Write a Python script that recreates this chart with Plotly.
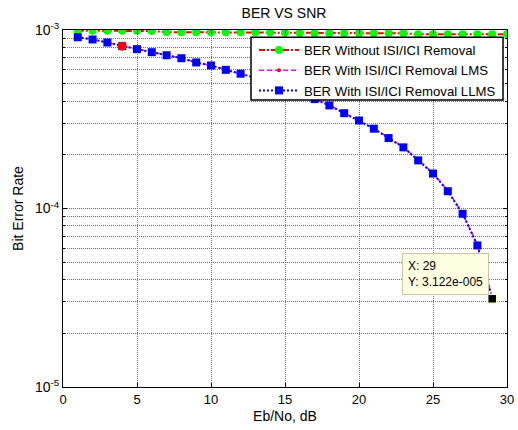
import plotly.graph_objects as go
import numpy as np

# ---- data ----
snr_no_removal = list(range(1, 31))
ber_no_removal = [0.990e-3, 0.990e-3, 0.989e-3, 0.989e-3, 0.990e-3, 0.988e-3,
                  0.973e-3, 0.972e-3, 0.972e-3, 0.971e-3, 0.972e-3, 0.971e-3,
                  0.972e-3, 0.970e-3, 0.968e-3, 0.961e-3, 0.960e-3, 0.960e-3,
                  0.959e-3, 0.960e-3, 0.960e-3, 0.959e-3, 0.958e-3, 0.948e-3,
                  0.947e-3, 0.948e-3, 0.947e-3, 0.947e-3, 0.946e-3, 0.947e-3]

snr_eq = list(range(1, 30))
ber_llms = [0.911e-3, 0.885e-3, 0.851e-3, 0.812e-3, 0.781e-3, 0.751e-3,
            0.722e-3, 0.695e-3, 0.658e-3, 0.633e-3, 0.598e-3, 0.569e-3,
            0.540e-3, 0.510e-3, 0.478e-3, 0.444e-3, 0.410e-3, 0.378e-3,
            0.342e-3, 0.311e-3, 0.280e-3, 0.248e-3, 0.220e-3, 0.186e-3,
            0.157e-3, 0.125e-3, 0.0934e-3, 0.0621e-3, 0.03122e-3]
ber_lms = [0.912e-3, 0.886e-3, 0.852e-3, 0.812e-3, 0.782e-3, 0.752e-3,
           0.723e-3, 0.696e-3, 0.659e-3, 0.634e-3, 0.599e-3, 0.570e-3,
           0.541e-3, 0.511e-3, 0.479e-3, 0.445e-3, 0.411e-3, 0.379e-3,
           0.343e-3, 0.312e-3, 0.281e-3, 0.249e-3, 0.221e-3, 0.187e-3,
           0.158e-3, 0.126e-3, 0.0940e-3, 0.0628e-3, 0.0318e-3]

highlight_x = [4]
highlight_y = [0.812e-3]
tip_x = 29
tip_y = 3.122e-5
tip_text = "X: 29<br>Y: 3.122e-005"

legend_names = ["BER Without ISI/ICI Removal",
                "BER With ISI/ICI Removal LMS",
                "BER With ISI/ICI Removal LLMS"]

x_ticks = [0, 5, 10, 15, 20, 25, 30]
y_major = [1e-5, 1e-4, 1e-3]
y_major_text = ["10<sup>-5</sup>", "10<sup>-4</sup>", "10<sup>-3</sup>"]
y_minor = [m * 10.0 ** e for e in (-5, -4) for m in range(2, 10)]

FONT = "Liberation Sans, Arial, sans-serif"
W, H = 518, 430
ML, MR, MT, MB = 63, 11, 30, 43
PW, PH = W - ML - MR, H - MT - MB
GRID = "#707070"


def px_x(p):
    return (p - ML) / PW


def px_y(p):
    return 1 - (p - MT) / PH


fig = go.Figure()
fig.add_trace(go.Scatter(
    x=snr_no_removal, y=ber_no_removal, name=legend_names[0], mode="lines+markers",
    line=dict(color="#ff0000", width=2, dash="6px,2px,2px,2px"),
    marker=dict(symbol="circle", size=8, color="#00ff00", line=dict(width=0))))
fig.add_trace(go.Scatter(
    x=snr_eq, y=ber_lms, name=legend_names[1], mode="lines+markers",
    line=dict(color="#ff00ff", width=1.5, dash="5px,3px"),
    marker=dict(symbol="circle", size=4, color="#ff0000", line=dict(width=0))))
fig.add_trace(go.Scatter(
    x=snr_eq, y=ber_llms, name=legend_names[2], mode="lines+markers",
    line=dict(color="#0000ff", width=2, dash="2px,2px"),
    marker=dict(symbol="square", size=8, color="#0000ff", line=dict(width=0))))
fig.add_trace(go.Scatter(
    x=highlight_x, y=highlight_y, mode="markers", showlegend=False,
    marker=dict(symbol="circle", size=9, color="#ff0000", line=dict(width=0))))
fig.add_trace(go.Scatter(
    x=[tip_x], y=[tip_y], mode="markers", showlegend=False,
    marker=dict(symbol="square", size=9, color="#000000",
                line=dict(width=1.5, color="#ffffc0"))))

fig.add_annotation(
    x=tip_x, y=np.log10(tip_y), xref="x", yref="y", text=tip_text,
    showarrow=False, xanchor="right", yanchor="bottom", xshift=-3, yshift=4,
    align="left", bgcolor="#ffffe1", bordercolor="#c8c8a0", borderwidth=1,
    borderpad=5, font=dict(family=FONT, size=12, color="black"))

# legend frame (MATLAB style box)
fig.add_shape(type="rect", xref="paper", yref="paper",
              x0=px_x(251), x1=px_x(503), y0=px_y(100), y1=px_y(37.3),
              line=dict(color="black", width=1.5), fillcolor="white", layer="above")

axis_common = dict(
    automargin=False,
    showline=True, linecolor="black", linewidth=1, mirror="ticks",
    ticks="inside", tickcolor="black", ticklen=4,
    showgrid=True, gridcolor=GRID, griddash="1px,1px", gridwidth=1,
    zeroline=False, tickfont=dict(family=FONT, size=13, color="black"))

fig.update_xaxes(range=[0, 30], tickmode="array", tickvals=x_ticks,
                 title=dict(text="Eb/No, dB", standoff=5,
                            font=dict(family=FONT, size=14, color="black")),
                 **axis_common)
fig.update_yaxes(type="log", range=[-5, -3], tickmode="array",
                 tickvals=y_major, ticktext=y_major_text,
                 title=dict(text="Bit Error Rate", standoff=8,
                            font=dict(family=FONT, size=14, color="black")),
                 minor=dict(tickmode="array", tickvals=y_minor, ticks="inside",
                            ticklen=2, tickcolor="black", showgrid=True,
                            gridcolor=GRID, griddash="1px,1px", gridwidth=1),
                 **axis_common)
fig.update_yaxes(tickfont=dict(family=FONT, size=14, color="black"))

fig.update_layout(
    width=W, height=H,
    margin=dict(l=ML, r=MR, t=MT, b=MB),
    paper_bgcolor="white", plot_bgcolor="white",
    title=dict(text="BER VS SNR", xref="paper", x=px_x(284), xanchor="center",
               y=1 - 13 / H, yanchor="middle",
               font=dict(family=FONT, size=14, color="black")),
    legend=dict(x=px_x(254), y=px_y(35), xanchor="left", yanchor="top",
                bgcolor="rgba(0,0,0,0)", borderwidth=0,
                font=dict(family=FONT, size=13.2, color="black"),
                tracegroupgap=0, itemwidth=40),
    showlegend=True,
    font=dict(family=FONT),
)

fig.write_html(
    "out.html",
    config={"displayModeBar": False},
    post_script="document.body.style.margin='0';document.body.style.padding='0';"
                "document.documentElement.style.overflow='hidden';",
)
